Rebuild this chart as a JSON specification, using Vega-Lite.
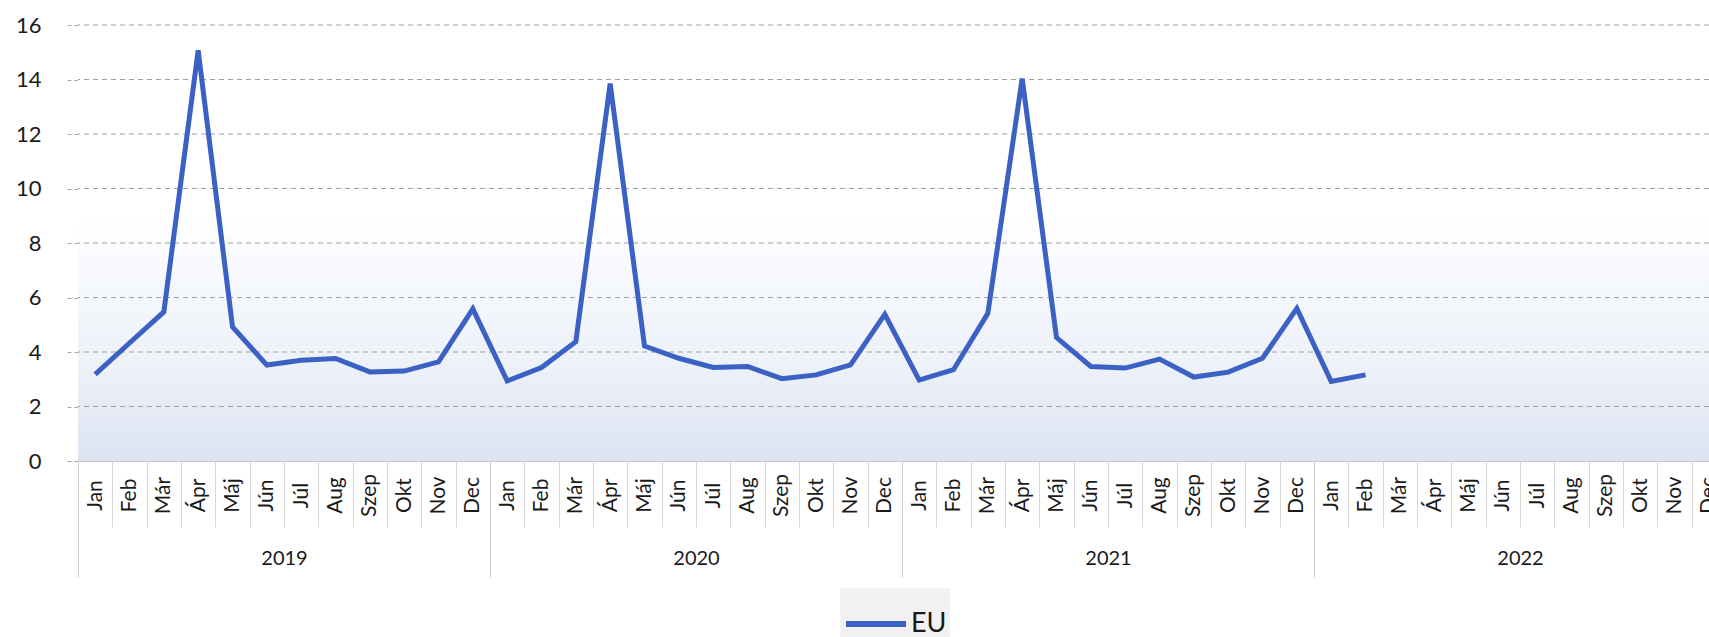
{
  "$schema": "https://vega.github.io/schema/vega-lite/v6.json",
  "width": 1631,
  "height": 436,
  "autosize": {"type": "none"},
  "padding": {"left": 78, "top": 25, "right": 0, "bottom": 176},
  "background": "white",
  "config": {"view": {"stroke": null}, "font": "Lato"},
  "layer": [
    {
      "data": {"values": [{"ev": "2019"}, {"ev": "2020"}, {"ev": "2021"}, {"ev": "2022"}]},
      "mark": {
        "type": "rect",
        "stroke": null,
        "fill": {
          "gradient": "linear", "x1": 0, "y1": 0, "x2": 0, "y2": 1,
          "stops": [
            {"offset": 0, "color": "#ffffff"},
            {"offset": 0.44, "color": "#ffffff"},
            {"offset": 0.56, "color": "#f7f9fd"},
            {"offset": 0.78, "color": "#edf1f8"},
            {"offset": 1, "color": "#dce3f2"}
          ]
        }
      },
      "encoding": {
        "x": {
          "field": "ev", "type": "nominal",
          "scale": {"type": "band", "range": [0, 1648], "paddingInner": 0, "paddingOuter": 0},
          "axis": {
            "title": null, "orient": "bottom", "domain": false, "labelAngle": 0,
            "tickBand": "extent", "tickSize": 116, "tickColor": "#cfcfcf",
            "labelPadding": -19, "labelBaseline": "middle", "labelFontSize": 20,
            "labelColor": "#1a1a1a", "labelFont": "Lato"
          }
        },
        "y": {"datum": 0, "type": "quantitative", "scale": {"domain": [0, 16], "nice": false}},
        "y2": {"datum": 16}
      }
    },
    {
      "data": {"values": [{"g": 2}, {"g": 4}, {"g": 6}, {"g": 8}, {"g": 10}, {"g": 12}, {"g": 14}, {"g": 16}]},
      "mark": {"type": "rule", "color": "#a0a0a0", "strokeDash": [5, 4], "strokeWidth": 1},
      "encoding": {
        "y": {"field": "g", "type": "quantitative"}
      }
    },
    {
      "data": {
        "values": [
          {"ho": "2019-01", "v": 3.18}, {"ho": "2019-02", "v": 4.33}, {"ho": "2019-03", "v": 5.47}, {"ho": "2019-04", "v": 15.07},
          {"ho": "2019-05", "v": 4.92}, {"ho": "2019-06", "v": 3.52}, {"ho": "2019-07", "v": 3.7}, {"ho": "2019-08", "v": 3.76},
          {"ho": "2019-09", "v": 3.27}, {"ho": "2019-10", "v": 3.3}, {"ho": "2019-11", "v": 3.64}, {"ho": "2019-12", "v": 5.58},
          {"ho": "2020-01", "v": 2.94}, {"ho": "2020-02", "v": 3.43}, {"ho": "2020-03", "v": 4.38}, {"ho": "2020-04", "v": 13.85},
          {"ho": "2020-05", "v": 4.22}, {"ho": "2020-06", "v": 3.77}, {"ho": "2020-07", "v": 3.43}, {"ho": "2020-08", "v": 3.47},
          {"ho": "2020-09", "v": 3.02}, {"ho": "2020-10", "v": 3.16}, {"ho": "2020-11", "v": 3.53}, {"ho": "2020-12", "v": 5.38},
          {"ho": "2021-01", "v": 2.97}, {"ho": "2021-02", "v": 3.35}, {"ho": "2021-03", "v": 5.42}, {"ho": "2021-04", "v": 14.03},
          {"ho": "2021-05", "v": 4.53}, {"ho": "2021-06", "v": 3.47}, {"ho": "2021-07", "v": 3.41}, {"ho": "2021-08", "v": 3.74},
          {"ho": "2021-09", "v": 3.08}, {"ho": "2021-10", "v": 3.26}, {"ho": "2021-11", "v": 3.77}, {"ho": "2021-12", "v": 5.6},
          {"ho": "2022-01", "v": 2.92}, {"ho": "2022-02", "v": 3.16}
        ]
      },
      "mark": {"type": "line", "strokeWidth": 5, "strokeJoin": "miter"},
      "encoding": {
        "x": {
          "field": "ho", "type": "ordinal", "bandPosition": 0.5,
          "scale": {
            "type": "band", "range": [0, 1648], "paddingInner": 0, "paddingOuter": 0,
            "domain": ["2019-01","2019-02","2019-03","2019-04","2019-05","2019-06","2019-07","2019-08","2019-09","2019-10","2019-11","2019-12",
                       "2020-01","2020-02","2020-03","2020-04","2020-05","2020-06","2020-07","2020-08","2020-09","2020-10","2020-11","2020-12",
                       "2021-01","2021-02","2021-03","2021-04","2021-05","2021-06","2021-07","2021-08","2021-09","2021-10","2021-11","2021-12",
                       "2022-01","2022-02","2022-03","2022-04","2022-05","2022-06","2022-07","2022-08","2022-09","2022-10","2022-11","2022-12"]
          },
          "axis": {
            "title": null, "orient": "bottom",
            "labelExpr": "['Jan','Feb','Már','Ápr','Máj','Jún','Júl','Aug','Szep','Okt','Nov','Dec'][toNumber(substring(datum.value,5,7))-1]",
            "labelAngle": -90, "labelAlign": "center", "labelBaseline": "middle",
            "labelPadding": -32, "labelFontSize": 21, "labelColor": "#1a1a1a", "labelFont": "Lato",
            "labelOverlap": false, "labelBound": false,
            "tickBand": "extent", "tickSize": 66, "tickColor": "#d6d6d6",
            "domainColor": "#c8c8c8", "domainWidth": 1
          }
        },
        "y": {
          "field": "v", "type": "quantitative",
          "scale": {"domain": [0, 16], "nice": false},
          "axis": {
            "title": null, "values": [0, 2, 4, 6, 8, 10, 12, 14, 16], "grid": false,
            "tickSize": 11, "tickColor": "#a6a6a6", "tickDash": [4, 3],
            "domainColor": "#c8c8c8", "labelPadding": 26, "labelFontSize": 22,
            "labelColor": "#1a1a1a", "labelFont": "Lato"
          }
        },
        "color": {
          "datum": "EU",
          "scale": {"range": ["#3b61c4"]},
          "legend": {
            "title": null, "orient": "none", "legendX": 762, "legendY": 563,
            "symbolType": "stroke", "symbolStrokeWidth": 6, "symbolSize": 3600,
            "labelFontSize": 27, "labelColor": "#1a1a1a", "labelFont": "Lato",
            "fillColor": "#f2f2f2", "padding": 3, "labelOffset": 2
          }
        }
      }
    }
  ],
  "resolve": {"scale": {"x": "independent"}, "axis": {"x": "independent"}}
}
